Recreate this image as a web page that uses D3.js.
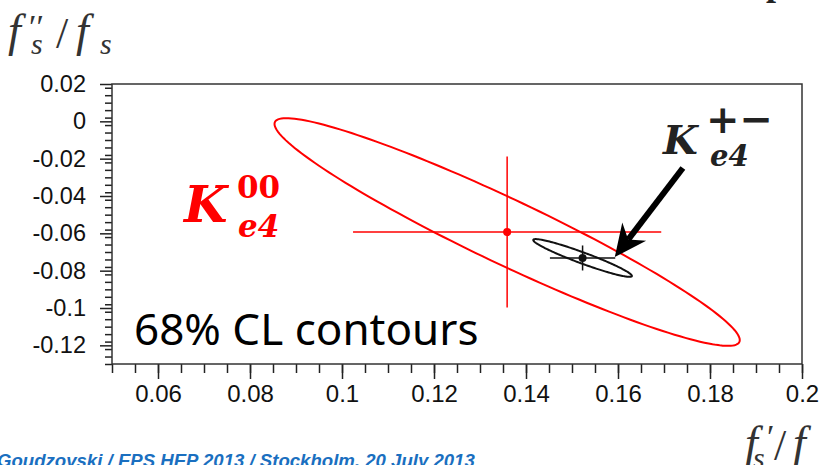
<!DOCTYPE html>
<html>
<head>
<meta charset="utf-8">
<script src="https://cdn.jsdelivr.net/npm/d3@7"></script>
<style>
  body { margin: 0; background: #fff; }
  svg { display: block; }
</style>
</head>
<body>
<div id="container"></div>
<script>
// contour data
const contourNames = ["K00", "K+-"];
const contourColors = ["#ff0000", "#111111"];
const centerX = [0.1359, 0.1523];
const centerY = [-0.0593, -0.0732];
const sigmaX = [0.0335, 0.0071];
const sigmaY = [0.0404, 0.0067];
const rho = [-0.949, -0.95];
const confLevel = 0.68;

const xTicks = [0.06, 0.08, 0.1, 0.12, 0.14, 0.16, 0.18, 0.2];
const xTickLabels = ["0.06", "0.08", "0.1", "0.12", "0.14", "0.16", "0.18", "0.2"];
const yTicks = [0.02, 0, -0.02, -0.04, -0.06, -0.08, -0.1, -0.12];
const yTickLabels = ["0.02", "0", "-0.02", "-0.04", "-0.06", "-0.08", "-0.1", "-0.12"];

const width = 821;
const height = 465;
const margin = { top: 84, right: 19, bottom: 101, left: 112 };

const svg = d3
  .select("#container")
  .append("svg")
  .attr("width", width)
  .attr("height", height);

const x = d3.scaleLinear().domain([0.05, 0.2]).range([margin.left, width - margin.right]);
const y = d3.scaleLinear().domain([-0.13, 0.02]).range([height - margin.bottom, margin.top]);

// axes: minor + major ticks, outside the frame
const xMinor = d3.range(0.05, 0.2001, 0.005);
const yMinor = d3.range(-0.13, 0.0201, 0.004);

svg
  .append("g")
  .attr("transform", `translate(0,${y.range()[0]})`)
  .call(d3.axisBottom(x).tickValues(xMinor).tickSize(9).tickFormat(""))
  .call((g) => g.select(".domain").remove())
  .call((g) => g.selectAll("line").attr("stroke", "#222").attr("stroke-width", 1.5));

svg
  .append("g")
  .attr("transform", `translate(0,${y.range()[0]})`)
  .call(
    d3.axisBottom(x)
      .tickValues(xTicks)
      .tickSize(15)
      .tickPadding(6)
      .tickFormat((d, i) => xTickLabels[i])
  )
  .call((g) => g.select(".domain").remove())
  .call((g) => g.selectAll("line").attr("stroke", "#222").attr("stroke-width", 1.5))
  .call((g) =>
    g.selectAll("text")
      .attr("font-family", "Liberation Sans, Arial, sans-serif")
      .attr("font-size", 24)
      .attr("fill", "#111")
  );

svg
  .append("g")
  .attr("transform", `translate(${x.range()[0]},0)`)
  .call(d3.axisLeft(y).tickValues(yMinor).tickSize(7).tickFormat(""))
  .call((g) => g.select(".domain").remove())
  .call((g) => g.selectAll("line").attr("stroke", "#222").attr("stroke-width", 1.5));

svg
  .append("g")
  .attr("transform", `translate(${x.range()[0]},0)`)
  .call(
    d3.axisLeft(y)
      .tickValues(yTicks)
      .tickSize(12)
      .tickPadding(14)
      .tickFormat((d, i) => yTickLabels[i])
  )
  .call((g) => g.select(".domain").remove())
  .call((g) => g.selectAll("line").attr("stroke", "#222").attr("stroke-width", 1.5))
  .call((g) =>
    g.selectAll("text")
      .attr("font-family", "Liberation Sans, Arial, sans-serif")
      .attr("font-size", 23.5)
      .attr("fill", "#111")
  );

// frame
svg
  .append("rect")
  .attr("x", x.range()[0])
  .attr("y", y.range()[1])
  .attr("width", x.range()[1] - x.range()[0])
  .attr("height", y.range()[0] - y.range()[1])
  .attr("fill", "none")
  .attr("stroke", "#333")
  .attr("stroke-width", 1.5);

// contours
const k = Math.sqrt(-2 * Math.log(1 - confLevel));
const line = d3
  .line()
  .x((d) => x(d[0]))
  .y((d) => y(d[1]))
  .curve(d3.curveLinearClosed);

contourNames.forEach((name, i) => {
  const pts = d3.range(0, 360, 2).map((deg) => {
    const t = (deg * Math.PI) / 180;
    const px = centerX[i] + k * sigmaX[i] * Math.cos(t);
    const py =
      centerY[i] +
      k * sigmaY[i] * (rho[i] * Math.cos(t) + Math.sqrt(1 - rho[i] * rho[i]) * Math.sin(t));
    return [px, py];
  });

  const g = svg.append("g").attr("class", `contour-${i}`);

  g.append("path")
    .attr("d", line(pts))
    .attr("fill", "none")
    .attr("stroke", contourColors[i])
    .attr("stroke-width", 2);

  g.append("line")
    .attr("x1", x(centerX[i] - sigmaX[i]))
    .attr("x2", x(centerX[i] + sigmaX[i]))
    .attr("y1", y(centerY[i]))
    .attr("y2", y(centerY[i]))
    .attr("stroke", contourColors[i])
    .attr("stroke-width", 1.5);

  g.append("line")
    .attr("x1", x(centerX[i]))
    .attr("x2", x(centerX[i]))
    .attr("y1", y(centerY[i] - sigmaY[i]))
    .attr("y2", y(centerY[i] + sigmaY[i]))
    .attr("stroke", contourColors[i])
    .attr("stroke-width", 1.5);

  g.append("circle")
    .attr("cx", x(centerX[i]))
    .attr("cy", y(centerY[i]))
    .attr("r", 4)
    .attr("fill", contourColors[i]);
});

// arrow pointing to the K+- contour
const arrowFrom = [0.1741, -0.025];
const arrowTo = [0.1593, -0.0727];
const ax0 = x(arrowFrom[0]), ay0 = y(arrowFrom[1]);
const ax1 = x(arrowTo[0]), ay1 = y(arrowTo[1]);
const len = Math.hypot(ax1 - ax0, ay1 - ay0);
const ux = (ax1 - ax0) / len, uy = (ay1 - ay0) / len;
const nx = -uy, ny = ux;
const headLen = 32, headHalf = 15, notch = 22;

svg
  .append("line")
  .attr("x1", ax0)
  .attr("y1", ay0)
  .attr("x2", ax1 - ux * notch)
  .attr("y2", ay1 - uy * notch)
  .attr("stroke", "#000")
  .attr("stroke-width", 6);

svg
  .append("path")
  .attr(
    "d",
    `M${ax1},${ay1}` +
      `L${ax1 - ux * headLen + nx * headHalf},${ay1 - uy * headLen + ny * headHalf}` +
      `L${ax1 - ux * notch},${ay1 - uy * notch}` +
      `L${ax1 - ux * headLen - nx * headHalf},${ay1 - uy * headLen - ny * headHalf}Z`
  )
  .attr("fill", "#000");

// labels
const serif = "DejaVu Serif, Liberation Serif, serif";
const tSerif = "Liberation Serif, DejaVu Serif, serif";

function kLabel(px, py, color, kSize, sup, supX, supY, supSize, subX, subY, subSize) {
  const g = svg.append("g").attr("font-family", serif).attr("font-weight", "bold").attr("fill", color);
  g.append("text")
    .attr("x", px)
    .attr("y", py)
    .attr("font-style", "italic")
    .attr("font-size", kSize)
    .text("K");
  g.append("text")
    .attr("x", supX)
    .attr("y", supY)
    .attr("font-size", supSize)
    .text(sup);
  g.append("text")
    .attr("x", subX)
    .attr("y", subY)
    .attr("font-style", "italic")
    .attr("font-size", subSize)
    .text("e4");
}

kLabel(184, 222, "#ff0000", 50, "00", 237, 198, 31, 238, 237, 31);
kLabel(663, 154, "#222", 40, "+\u2212", 706, 133, 40, 710, 166, 29);

svg
  .append("text")
  .attr("x", 134)
  .attr("y", 345)
  .attr("font-family", "Noto Sans, Open Sans, sans-serif")
  .attr("font-size", 44)
  .attr("fill", "#000")
  .text("68% CL contours");

// axis titles
const yTitle = svg.append("g").attr("font-family", tSerif).attr("font-style", "italic").attr("fill", "#333");
yTitle.append("text").attr("x", 8).attr("y", 46).attr("font-size", 46).text("f");
yTitle.append("text").attr("x", 29).attr("y", 38).attr("font-size", 34).attr("font-style", "normal").text("\u2032\u2032");
yTitle.append("text").attr("x", 31).attr("y", 54).attr("font-size", 30).text("s");
yTitle.append("text").attr("x", 56).attr("y", 48).attr("font-size", 44).attr("font-style", "normal").text("/");
yTitle.append("text").attr("x", 76).attr("y", 46).attr("font-size", 46).text("f");
yTitle.append("text").attr("x", 100).attr("y", 54).attr("font-size", 30).text("s");

const xTitle = svg.append("g").attr("font-family", tSerif).attr("font-style", "italic").attr("fill", "#333");
xTitle.append("text").attr("x", 745).attr("y", 458).attr("font-size", 46).text("f");
xTitle.append("text").attr("x", 767).attr("y", 448).attr("font-size", 34).attr("font-style", "normal").text("\u2032");
xTitle.append("text").attr("x", 753).attr("y", 468).attr("font-size", 30).text("s");
xTitle.append("text").attr("x", 774).attr("y", 460).attr("font-size", 44).attr("font-style", "normal").text("/");
xTitle.append("text").attr("x", 793).attr("y", 458).attr("font-size", 46).text("f");

// cut-off slide title glyph at the top
svg
  .append("text")
  .attr("x", 766)
  .attr("y", -5)
  .attr("font-family", tSerif)
  .attr("font-weight", "bold")
  .attr("font-size", 36)
  .attr("fill", "#222")
  .text("p");

// slide footer (clipped by the bottom edge)
svg
  .append("text")
  .attr("x", -3)
  .attr("y", 467)
  .attr("font-family", "Liberation Sans, Arial, sans-serif")
  .attr("font-weight", "bold")
  .attr("font-style", "italic")
  .attr("font-size", 18.6)
  .attr("fill", "#1a6fc0")
  .text("Goudzovski / EPS HEP 2013 / Stockholm, 20 July 2013");
</script>
</body>
</html>
